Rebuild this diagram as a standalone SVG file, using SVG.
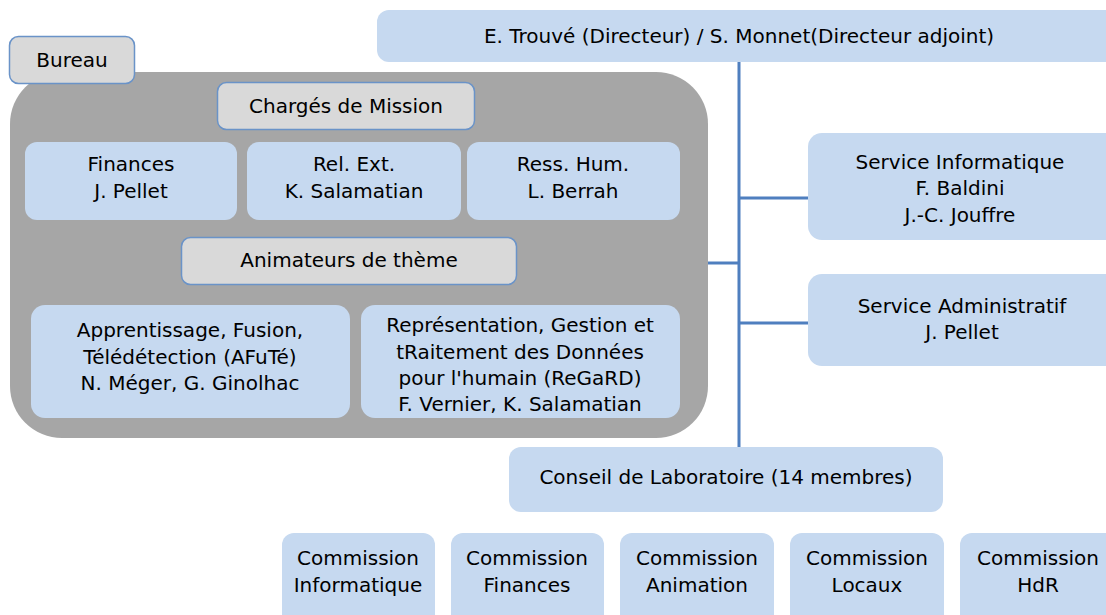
<svg xmlns="http://www.w3.org/2000/svg" width="1106" height="615" viewBox="0 0 1106 615">
<style>
.b{fill:#c6d9f0}
.g{fill:#d9d9d9;stroke:#6a93c8;stroke-width:1.5}
.t{font-family:"DejaVu Sans",sans-serif;font-size:20px;fill:#000;text-anchor:middle}
.c{stroke:#4f7fbf;stroke-width:3;fill:none}
</style>
<rect width="1106" height="615" fill="#fff"/>
<g id="connectors">
<line class="c" x1="739" y1="62" x2="739" y2="448"/>
<line class="c" x1="708" y1="263" x2="739" y2="263"/>
<line class="c" x1="739" y1="198" x2="809" y2="198"/>
<line class="c" x1="739" y1="323" x2="809" y2="323"/>
</g>
<g id="director"><rect class="b" x="377" y="10" width="745" height="52" rx="12"/><text class="t" x="739" y="43">E. Trouvé (Directeur) / S. Monnet(Directeur adjoint)</text></g>
<g id="bureau-area"><rect x="10" y="72" width="698" height="366" rx="52" fill="#a6a6a6"/></g>
<g id="bureau"><rect class="g" x="9.5" y="36.5" width="125" height="47" rx="9"/><text class="t" x="72" y="67">Bureau</text></g>
<g id="charges"><rect class="g" x="217.5" y="82.5" width="257" height="47" rx="9"/><text class="t" x="346" y="113">Chargés de Mission</text></g>
<g id="finances"><rect class="b" x="25" y="142" width="212" height="78" rx="12"/><text class="t" x="131" y="171">Finances</text><text class="t" x="131" y="198">J. Pellet</text></g>
<g id="relext"><rect class="b" x="247" y="142" width="214" height="78" rx="12"/><text class="t" x="354" y="171">Rel. Ext.</text><text class="t" x="354" y="198">K. Salamatian</text></g>
<g id="resshum"><rect class="b" x="467" y="142" width="213" height="78" rx="12"/><text class="t" x="573" y="171">Ress. Hum.</text><text class="t" x="573" y="198">L. Berrah</text></g>
<g id="animateurs"><rect class="g" x="181.5" y="237.5" width="335" height="47" rx="9"/><text class="t" x="349" y="267">Animateurs de thème</text></g>
<g id="afute"><rect class="b" x="31" y="305" width="319" height="113" rx="14"/><text class="t" x="190" y="337">Apprentissage, Fusion,</text><text class="t" x="190" y="364">Télédétection (AFuTé)</text><text class="t" x="190" y="390">N. Méger, G. Ginolhac</text></g>
<g id="regard"><rect class="b" x="361" y="305" width="319" height="113" rx="14"/><text class="t" x="520" y="332">Représentation, Gestion et</text><text class="t" x="520" y="359">tRaitement des Données</text><text class="t" x="520" y="385">pour l'humain (ReGaRD)</text><text class="t" x="520" y="411">F. Vernier, K. Salamatian</text></g>
<g id="service-info"><rect class="b" x="808" y="133" width="314" height="107" rx="14"/><text class="t" x="960" y="169">Service Informatique</text><text class="t" x="960" y="195">F. Baldini</text><text class="t" x="960" y="222">J.-C. Jouffre</text></g>
<g id="service-admin"><rect class="b" x="808" y="274" width="314" height="92" rx="14"/><text class="t" x="962" y="313">Service Administratif</text><text class="t" x="962" y="339">J. Pellet</text></g>
<g id="conseil"><rect class="b" x="509" y="447" width="434" height="65" rx="12"/><text class="t" x="726" y="484">Conseil de Laboratoire (14 membres)</text></g>
<g id="com-info"><rect class="b" x="282" y="533" width="153" height="95" rx="12"/><text class="t" x="358" y="565">Commission</text><text class="t" x="358" y="592">Informatique</text></g>
<g id="com-fin"><rect class="b" x="451" y="533" width="153" height="95" rx="12"/><text class="t" x="527" y="565">Commission</text><text class="t" x="527" y="592">Finances</text></g>
<g id="com-anim"><rect class="b" x="620" y="533" width="154" height="95" rx="12"/><text class="t" x="697" y="565">Commission</text><text class="t" x="697" y="592">Animation</text></g>
<g id="com-loc"><rect class="b" x="790" y="533" width="154" height="95" rx="12"/><text class="t" x="867" y="565">Commission</text><text class="t" x="867" y="592">Locaux</text></g>
<g id="com-hdr"><rect class="b" x="960" y="533" width="160" height="95" rx="12"/><text class="t" x="1038" y="565">Commission</text><text class="t" x="1038" y="592">HdR</text></g>
</svg>
